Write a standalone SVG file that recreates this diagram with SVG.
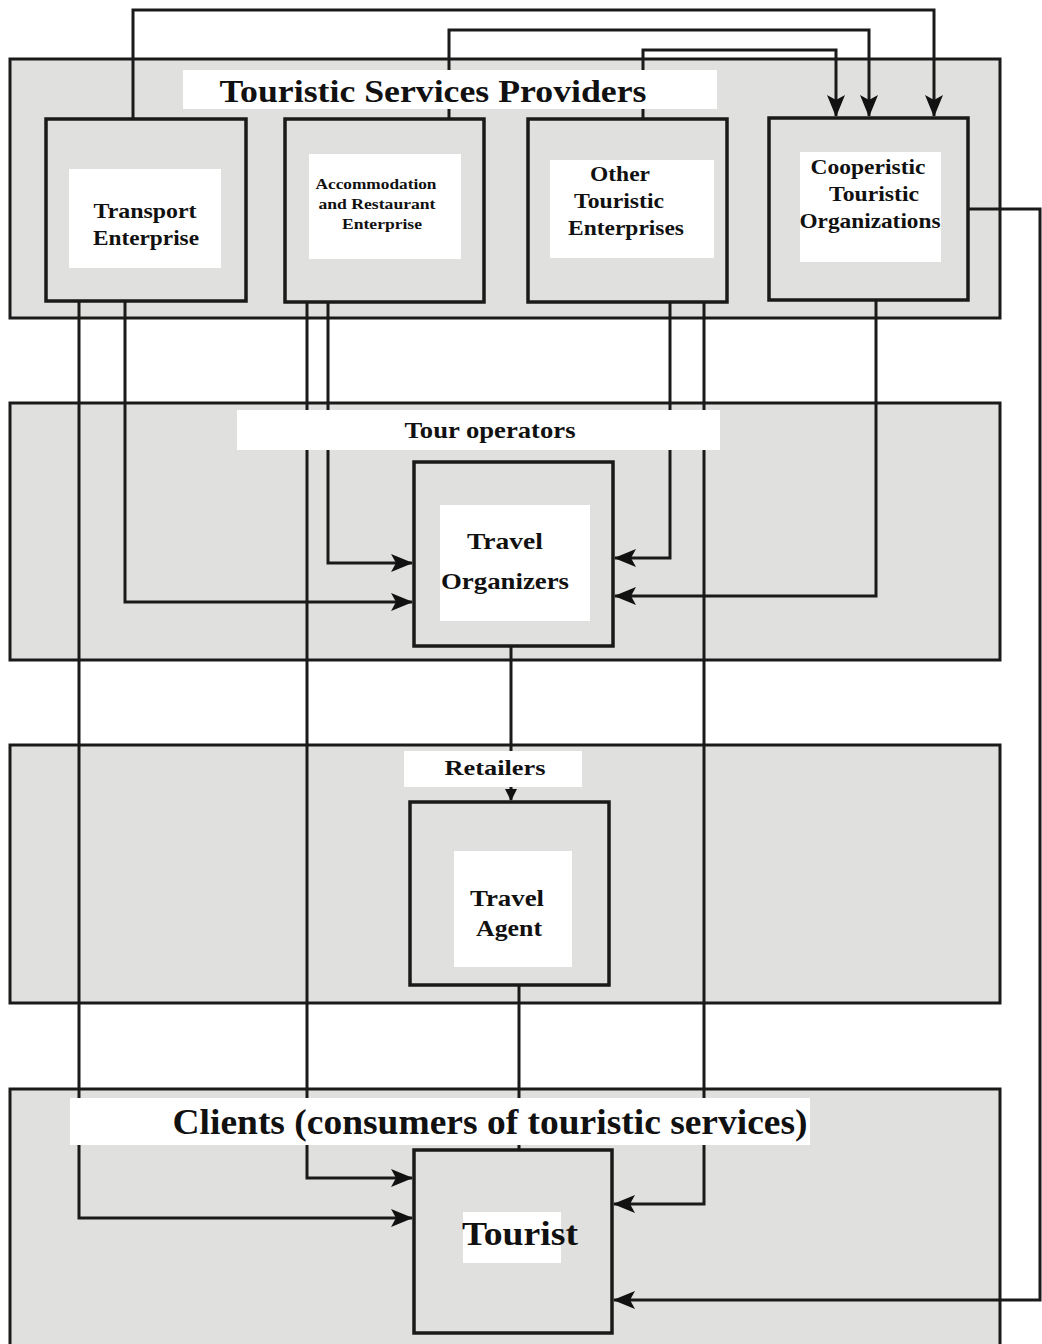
<svg xmlns="http://www.w3.org/2000/svg" width="1042" height="1344" viewBox="0 0 1042 1344">
<defs>
<marker id="ah" markerWidth="22" markerHeight="18" refX="21" refY="9" orient="auto" markerUnits="userSpaceOnUse"><path d="M0,0 L22,9 L0,18 L5,9 Z" fill="#111"/></marker>
<marker id="ahs" markerWidth="12" markerHeight="12" refX="11" refY="6" orient="auto" markerUnits="userSpaceOnUse"><path d="M0,0 L12,6 L0,12 Z" fill="#111"/></marker>
<style>
.band{fill:#e0e0de;stroke:#1a1a1a;stroke-width:3}
.node{fill:#e0e0de;stroke:#1a1a1a;stroke-width:3.5}
.wb{fill:#fff}
.c{fill:none;stroke:#1a1a1a;stroke-width:3}
.t{font-family:"Liberation Serif","Times New Roman",serif;font-weight:bold;fill:#111;text-anchor:middle}
</style>
</defs>
<rect width="1042" height="1344" fill="#fff"/>
<g id="bands">
<rect class="band" x="10" y="59" width="990" height="259"/>
<rect class="band" x="10" y="403" width="990" height="257"/>
<rect class="band" x="10" y="745" width="990" height="258"/>
<rect class="band" x="10" y="1089" width="990" height="257"/>
</g>
<g id="connectors">
<path class="c" d="M133,119 V10 H934 V116" marker-end="url(#ah)"/>
<path class="c" d="M449,119 V30 H869 V116" marker-end="url(#ah)"/>
<path class="c" d="M643,119 V50 H836 V116" marker-end="url(#ah)"/>
<path class="c" d="M968,209 H1040 V1300 H614" marker-end="url(#ah)"/>
<path class="c" d="M79,301 V1218 H412" marker-end="url(#ah)"/>
<path class="c" d="M125,301 V602 H412" marker-end="url(#ah)"/>
<path class="c" d="M307,302 V1178 H412" marker-end="url(#ah)"/>
<path class="c" d="M328,302 V563 H412" marker-end="url(#ah)"/>
<path class="c" d="M670,302 V558 H615" marker-end="url(#ah)"/>
<path class="c" d="M704,302 V1204 H614" marker-end="url(#ah)"/>
<path class="c" d="M876,300 V596 H615" marker-end="url(#ah)"/>
<path class="c" d="M511,646 V800" marker-end="url(#ahs)"/>
<path class="c" d="M519,985 V1150"/>
</g>
<g id="labels">
<g id="label-providers"><rect class="wb" x="183" y="70" width="534" height="39"/><text class="t" x="433" y="102" font-size="32" textLength="427" lengthAdjust="spacingAndGlyphs">Touristic Services Providers</text></g>
<g id="label-touroperators"><rect class="wb" x="237" y="410" width="483" height="40"/><text class="t" x="490" y="438" font-size="23" textLength="171" lengthAdjust="spacingAndGlyphs">Tour operators</text></g>
<g id="label-retailers"><rect class="wb" x="404" y="751" width="178" height="36"/><text class="t" x="495" y="775" font-size="22" textLength="101" lengthAdjust="spacingAndGlyphs">Retailers</text></g>
<g id="label-clients"><rect class="wb" x="70" y="1098" width="740" height="47"/><text class="t" x="490" y="1134" font-size="36" textLength="635" lengthAdjust="spacingAndGlyphs">Clients (consumers of touristic services)</text></g>
</g>
<g id="transport">
<rect class="node" x="46" y="119" width="200" height="182"/>
<rect class="wb" x="69" y="169" width="152" height="99"/>
<text class="t" font-size="21"><tspan x="145" y="218" textLength="103" lengthAdjust="spacingAndGlyphs">Transport</tspan><tspan x="146" y="245" textLength="106" lengthAdjust="spacingAndGlyphs">Enterprise</tspan></text>
</g>
<g id="accommodation">
<rect class="node" x="285" y="119" width="199" height="183"/>
<rect class="wb" x="309" y="154" width="152" height="105"/>
<text class="t" font-size="14"><tspan x="376" y="189" textLength="121" lengthAdjust="spacingAndGlyphs">Accommodation</tspan><tspan x="377" y="209" textLength="117" lengthAdjust="spacingAndGlyphs">and Restaurant</tspan><tspan x="382" y="229" textLength="80" lengthAdjust="spacingAndGlyphs">Enterprise</tspan></text>
</g>
<g id="other">
<rect class="node" x="528" y="119" width="199" height="183"/>
<rect class="wb" x="550" y="160" width="164" height="98"/>
<text class="t" font-size="21"><tspan x="620" y="181" textLength="60" lengthAdjust="spacingAndGlyphs">Other</tspan><tspan x="619" y="208" textLength="90" lengthAdjust="spacingAndGlyphs">Touristic</tspan><tspan x="626" y="235" textLength="116" lengthAdjust="spacingAndGlyphs">Enterprises</tspan></text>
</g>
<g id="cooperistic">
<rect class="node" x="769" y="118" width="199" height="182"/>
<rect class="wb" x="800" y="152" width="141" height="110"/>
<text class="t" font-size="21"><tspan x="868" y="174" textLength="115" lengthAdjust="spacingAndGlyphs">Cooperistic</tspan><tspan x="874" y="201" textLength="90" lengthAdjust="spacingAndGlyphs">Touristic</tspan><tspan x="870" y="228" textLength="141" lengthAdjust="spacingAndGlyphs">Organizations</tspan></text>
</g>
<g id="travel-organizers">
<rect class="node" x="414" y="462" width="199" height="184"/>
<rect class="wb" x="440" y="505" width="150" height="116"/>
<text class="t" font-size="23"><tspan x="505" y="549" textLength="76" lengthAdjust="spacingAndGlyphs">Travel</tspan><tspan x="505" y="589" textLength="128" lengthAdjust="spacingAndGlyphs">Organizers</tspan></text>
</g>
<g id="travel-agent">
<rect class="node" x="410" y="802" width="199" height="183"/>
<rect class="wb" x="454" y="851" width="118" height="116"/>
<text class="t" font-size="23"><tspan x="507" y="906" textLength="74" lengthAdjust="spacingAndGlyphs">Travel</tspan><tspan x="509" y="936" textLength="66" lengthAdjust="spacingAndGlyphs">Agent</tspan></text>
</g>
<g id="tourist">
<rect class="node" x="414" y="1150" width="198" height="183"/>
<rect class="wb" x="463" y="1212" width="98" height="51"/>
<text class="t" x="520" y="1245" font-size="34" textLength="116" lengthAdjust="spacingAndGlyphs">Tourist</text>
</g>
</svg>
